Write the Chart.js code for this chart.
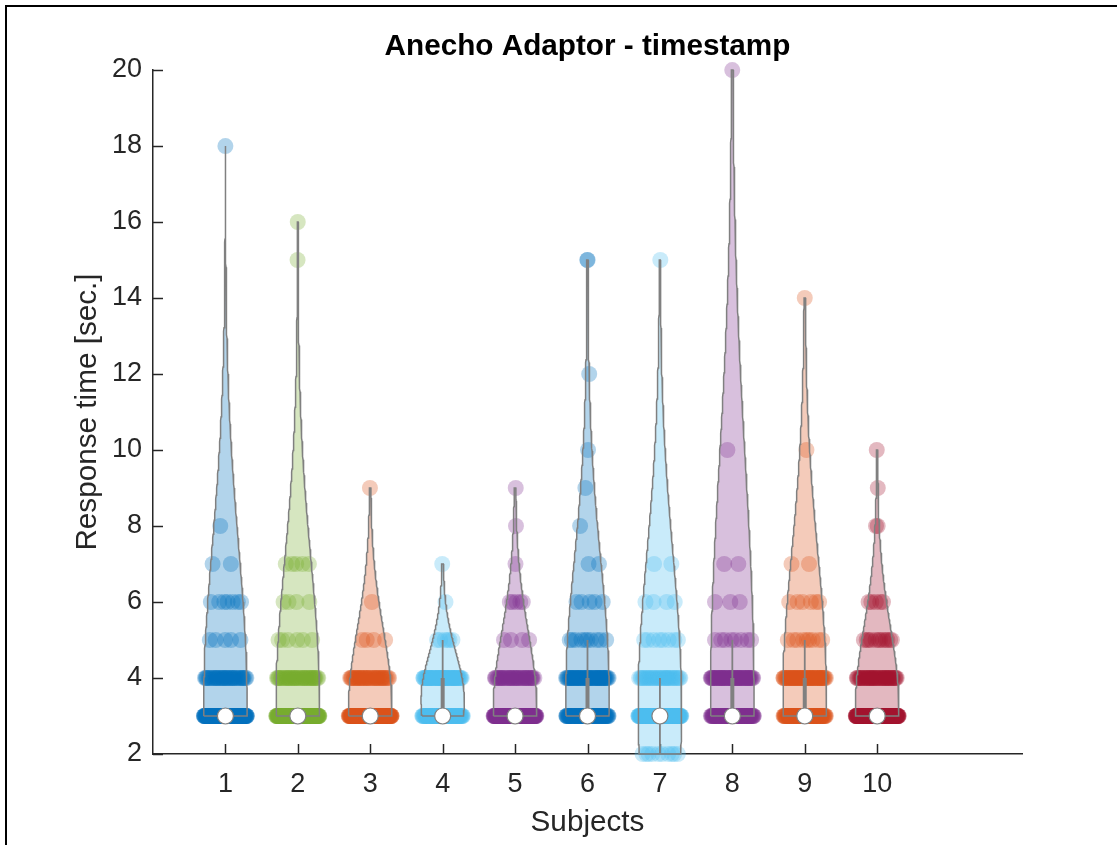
<!DOCTYPE html>
<html>
<head>
<meta charset="utf-8">
<script src="https://cdn.jsdelivr.net/npm/chart.js@4.4.1/dist/chart.umd.min.js"></script>
<style>
  html, body { margin: 0; padding: 0; background: #ffffff; }
  canvas { display: block; }
</style>
</head>
<body>
<canvas id="violins" width="1117" height="845"></canvas>
<script>
// ---- data -------------------------------------------------------------
const subjectLabels = ['1', '2', '3', '4', '5', '6', '7', '8', '9', '10'];
// whole-second response times that occur (index used by the count arrays)
const responseSeconds = [2, 3, 4, 5, 6, 7, 8, 9, 10, 11, 12, 13, 14, 15, 16, 17, 18, 19, 20];
// number of responses per subject at each entry of responseSeconds
const subject1Counts  = [0, 180, 40,  5, 7, 2, 1, 0, 0, 0, 0, 0, 0, 0, 0, 0, 1, 0, 0];
const subject2Counts  = [0, 180, 40,  6, 4, 5, 0, 0, 0, 0, 0, 0, 0, 1, 1, 0, 0, 0, 0];
const subject3Counts  = [0, 170, 40,  4, 1, 0, 0, 1, 0, 0, 0, 0, 0, 0, 0, 0, 0, 0, 0];
const subject4Counts  = [0,  90, 60,  6, 1, 1, 0, 0, 0, 0, 0, 0, 0, 0, 0, 0, 0, 0, 0];
const subject5Counts  = [0, 170, 40,  4, 5, 1, 1, 1, 0, 0, 0, 0, 0, 0, 0, 0, 0, 0, 0];
const subject6Counts  = [0, 100, 60, 10, 5, 2, 1, 1, 1, 0, 1, 0, 0, 2, 0, 0, 0, 0, 0];
const subject7Counts  = [10, 150, 35, 8, 4, 2, 0, 0, 0, 0, 0, 0, 0, 1, 0, 0, 0, 0, 0];
const subject8Counts  = [0, 100, 60,  8, 3, 2, 0, 0, 1, 0, 0, 0, 0, 0, 0, 0, 0, 0, 1];
const subject9Counts  = [0, 100, 60,  9, 6, 2, 0, 0, 1, 0, 0, 0, 1, 0, 0, 0, 0, 0, 0];
const subject10Counts = [0, 210, 45, 12, 5, 0, 2, 1, 1, 0, 0, 0, 0, 0, 0, 0, 0, 0, 0];
const countsBySubject = [subject1Counts, subject2Counts, subject3Counts, subject4Counts, subject5Counts,
                         subject6Counts, subject7Counts, subject8Counts, subject9Counts, subject10Counts];
const yTickValues = [2, 4, 6, 8, 10, 12, 14, 16, 18, 20];

// ---- style ------------------------------------------------------------
const violinColors = ['#0072BD', '#77AC30', '#D95319', '#4DBEEE', '#7E2F8E',
                      '#0072BD', '#4DBEEE', '#7E2F8E', '#D95319', '#A2142F'];
const kdeBandwidth = [4.1, 3.7, 2.0, 1.1, 1.9, 3.4, 3.9, 6.0, 3.6, 2.0];
const violinHalfWidth = 0.3;
const FONT = "'Liberation Sans', Arial, Helvetica, sans-serif";
const AXIS_COLOR = '#262626';
const EDGE_GRAY = '#808080';

function rgba(hex, a) {
  const n = parseInt(hex.slice(1), 16);
  return `rgba(${(n >> 16) & 255},${(n >> 8) & 255},${n & 255},${a})`;
}

// MATLAB-style quantile (midpoint positions, linear interpolation)
function quantile(sorted, p) {
  const n = sorted.length;
  const pos = n * p + 0.5;
  if (pos <= 1) return sorted[0];
  if (pos >= n) return sorted[n - 1];
  const lo = Math.floor(pos), hi = Math.ceil(pos);
  return sorted[lo - 1] + (pos - lo) * (sorted[hi - 1] - sorted[lo - 1]);
}

const datasets = [];

countsBySubject.forEach((counts, s) => {
  const pos = s + 1;
  const color = violinColors[s];
  const bw = kdeBandwidth[s];

  const values = [];
  counts.forEach((c, k) => { for (let i = 0; i < c; i++) values.push(responseSeconds[k]); });
  values.sort((a, b) => a - b);
  const vMin = values[0], vMax = values[values.length - 1];

  // Gaussian kernel density over the observed levels
  const density = y => counts.reduce((acc, c, k) => {
    const z = (y - responseSeconds[k]) / bw;
    return acc + c * Math.exp(-0.5 * z * z);
  }, 0);
  const steps = 160;
  const grid = [];
  for (let i = 0; i <= steps; i++) grid.push(vMin + (vMax - vMin) * i / steps);
  const dens = grid.map(density);
  const dMax = Math.max(...dens);
  const halfWidth = y => violinHalfWidth * density(y) / dMax;

  // scattered responses, spread inside the violin at their level
  const pts = [];
  counts.forEach((c, k) => {
    const v = responseSeconds[k];
    const w = halfWidth(v);
    for (let i = 0; i < c; i++) {
      const frac = ((s * 0.371 + k * 0.213 + i * 0.6180339887) % 1) * 2 - 1;
      pts.push({ x: pos + frac * w, y: v });
    }
  });
  datasets.push({
    type: 'scatter', data: pts, order: 5, clip: false,
    pointRadius: 8, pointHoverRadius: 8, pointBorderWidth: 0,
    pointBackgroundColor: rgba(color, 0.3)
  });

  // violin outline (closed polygon)
  const outline = [];
  grid.forEach((y, i) => outline.push({ x: pos - violinHalfWidth * dens[i] / dMax, y }));
  for (let i = grid.length - 1; i >= 0; i--) outline.push({ x: pos + violinHalfWidth * dens[i] / dMax, y: grid[i] });
  outline.push(outline[0]);
  datasets.push({
    type: 'line', data: outline, order: 4, clip: false,
    fill: 'shape', backgroundColor: rgba(color, 0.3),
    borderColor: EDGE_GRAY, borderWidth: 1.5, pointRadius: 0, tension: 0
  });

  // quartiles, whiskers and median
  const q1 = quantile(values, 0.25), med = quantile(values, 0.5), q3 = quantile(values, 0.75);
  const iqr = q3 - q1;
  let lowW = q1 - 1.5 * iqr;
  const above = values.filter(v => v > lowW);
  if (above.length) lowW = Math.max(lowW, Math.min(...above));
  let hiW = q3 + 1.5 * iqr;
  const below = values.filter(v => v < hiW);
  if (below.length) {
    hiW = Math.min(hiW, Math.max(...below));
    datasets.push({
      type: 'line', data: [{ x: pos, y: lowW }, { x: pos, y: hiW }], order: 3, clip: false,
      borderColor: EDGE_GRAY, borderWidth: 1.8, pointRadius: 0, fill: false
    });
  }
  if (iqr > 0) {
    datasets.push({
      type: 'line', data: [{ x: pos, y: q1 }, { x: pos, y: q3 }], order: 2, clip: false,
      borderColor: EDGE_GRAY, borderWidth: 4, pointRadius: 0, fill: false
    });
  }
  datasets.push({
    type: 'scatter', data: [{ x: pos, y: med }], order: 1, clip: false,
    pointRadius: 8, pointHoverRadius: 8, pointBackgroundColor: '#ffffff',
    pointBorderColor: EDGE_GRAY, pointBorderWidth: 1.2
  });
});

// tick marks drawn inward from the axis lines
const inwardTicks = {
  id: 'inwardTicks',
  beforeDatasetsDraw(chart) {
    const { ctx, chartArea, scales: { x, y } } = chart;
    ctx.save();
    ctx.strokeStyle = AXIS_COLOR;
    ctx.lineWidth = 1.5;
    x.ticks.forEach(t => {
      const px = Math.round(x.getPixelForValue(t.value)) + 0.5;
      ctx.beginPath(); ctx.moveTo(px, chartArea.bottom); ctx.lineTo(px, chartArea.bottom - 10); ctx.stroke();
    });
    y.ticks.forEach(t => {
      const py = Math.round(y.getPixelForValue(t.value)) + 0.5;
      ctx.beginPath(); ctx.moveTo(chartArea.left, py); ctx.lineTo(chartArea.left + 10, py); ctx.stroke();
    });
    ctx.restore();
  }
};

// figure frame along the top and left edges
const figureFrame = {
  id: 'figureFrame',
  afterDraw(chart) {
    const { ctx, width, height } = chart;
    ctx.save();
    ctx.strokeStyle = '#000000';
    ctx.lineWidth = 2;
    ctx.beginPath();
    ctx.moveTo(6, height); ctx.lineTo(6, 6); ctx.lineTo(width, 6);
    ctx.stroke();
    ctx.restore();
  }
};

new Chart(document.getElementById('violins'), {
  type: 'scatter',
  data: { datasets },
  options: {
    responsive: false,
    animation: false,
    devicePixelRatio: 1,
    events: [],
    layout: { padding: { top: 0, right: 95, bottom: 0, left: 0 } },
    plugins: {
      legend: { display: false },
      tooltip: { enabled: false },
      title: {
        display: true, fullSize: false,
        text: 'Anecho Adaptor - timestamp',
        color: '#000000',
        font: { family: FONT, size: 29.7, weight: 'bold', lineHeight: 1.2 },
        padding: { top: 29.2, bottom: 5.2 }
      }
    },
    scales: {
      x: {
        type: 'linear', min: 0, max: 12,
        afterBuildTicks: scale => { scale.ticks = subjectLabels.map((_, i) => ({ value: i + 1 })); },
        afterFit: scale => { scale.height = 91; },
        ticks: {
          callback: v => subjectLabels[v - 1],
          color: AXIS_COLOR, font: { family: FONT, size: 27 }, padding: 14, maxRotation: 0
        },
        grid: { display: false, drawTicks: false },
        border: { display: true, color: AXIS_COLOR, width: 1.5 },
        title: {
          display: true, text: 'Subjects', color: AXIS_COLOR,
          font: { family: FONT, size: 29.7, lineHeight: 1.2 }, padding: { top: 0, bottom: 4.2 }
        }
      },
      y: {
        type: 'linear', min: 2, max: 20,
        afterBuildTicks: scale => { scale.ticks = yTickValues.map(v => ({ value: v })); },
        afterFit: scale => { scale.width = 153; },
        ticks: { color: AXIS_COLOR, font: { family: FONT, size: 27 }, padding: 11 },
        grid: { display: false, drawTicks: false },
        border: { display: true, color: AXIS_COLOR, width: 1.5 },
        title: {
          display: true, text: 'Response time [sec.]', color: AXIS_COLOR,
          font: { family: FONT, size: 29.7, lineHeight: 1.2 }, padding: { top: 70.2, bottom: 0 }
        }
      }
    }
  },
  plugins: [inwardTicks, figureFrame]
});
</script>
</body>
</html>
